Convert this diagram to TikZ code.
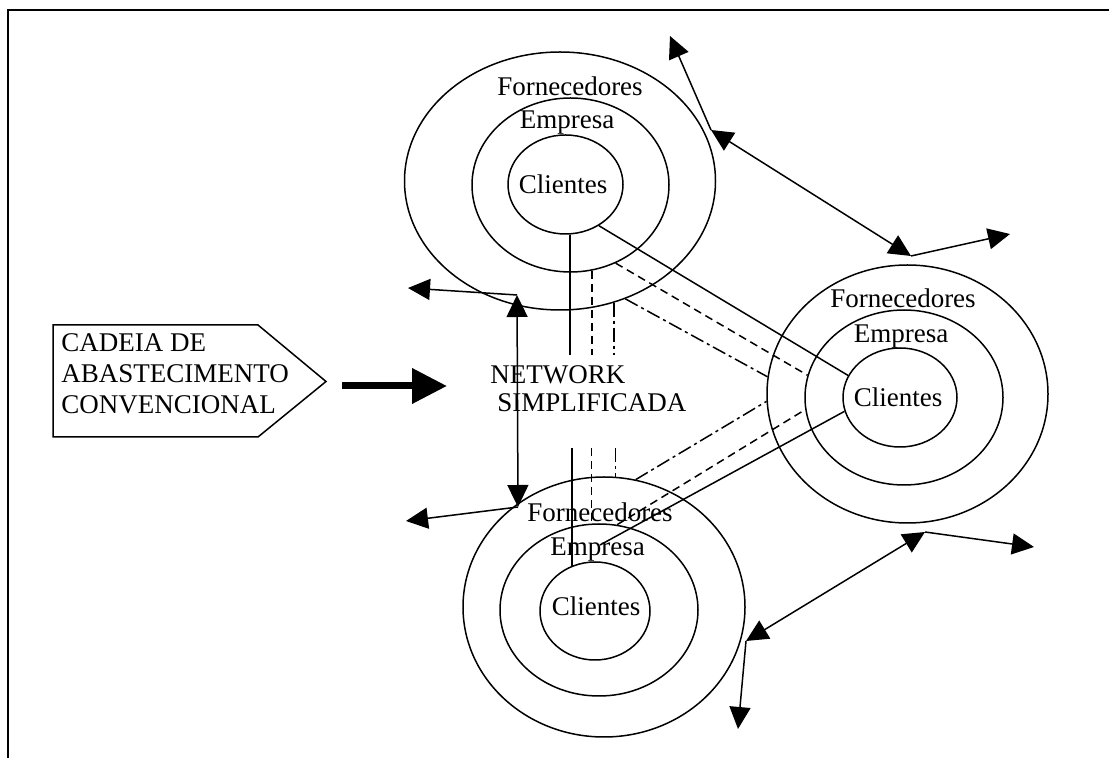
\documentclass[tikz,border=0pt]{standalone}
\usepackage{fontspec}
\setmainfont{Liberation Serif}
\usepackage{tikz}
\usetikzlibrary{shapes, arrows.meta, positioning, calc}

\tikzset{
  ring/.style={draw, ellipse, line width=0.75pt, inner sep=0pt},
  lbl/.style={inner sep=0pt, font=\fontsize{13.5}{15.5}\selectfont},
  link/.style={line width=0.75pt},
  dashlink/.style={line width=0.75pt, dash pattern=on 4pt off 2.5pt},
  dotlink/.style={line width=0.75pt, dash pattern=on 7pt off 2pt on 1.5pt off 2pt},
  onearr/.style={line width=0.75pt, -{Triangle[length=11pt, width=10.5pt]}},
  twoarr/.style={line width=0.75pt, {Triangle[length=11pt, width=10.5pt]}-{Triangle[length=11pt, width=10.5pt]}}
}

\begin{document}
\begin{tikzpicture}[x=0.5pt, y=-0.5pt]
  \useasboundingbox (0,0) rectangle (1109,758);
  \draw[line width=1pt] (8,758) -- (8,10) -- (1109,10);

  \draw[line width=0.75pt] (53,325) -- (258,325) -- (326,381.5) -- (258,437) -- (53,437) -- cycle;
  \node[lbl, anchor=west, align=left] (conv) at (61,374) {CADEIA DE\\ABASTECIMENTO\\CONVENCIONAL};
  \coordinate (bigS) at (342,386);
  \coordinate (bigE) at (447,386);
  \draw[line width=3.5pt, -{Triangle[length=17.5pt, width=17pt]}] (bigS) -- (bigE);
  \node[lbl, anchor=west, align=left] (net) at (490,389) {NETWORK\\[-1.5pt]\hspace{3.5pt}SIMPLIFICADA};

  \node[ring, minimum width=155.5pt, minimum height=129pt] (topO) at (560,181) {};
  \node[ring, minimum width=98.5pt, minimum height=87pt] (topM) at (570.5,185) {};
  \node[ring, minimum width=57.5pt, minimum height=49.5pt] (topI) at (565.5,184.5) {};
  \node[lbl] (topF) at (570,86) {Fornecedores};
  \node[lbl] (topE) at (567,123) {Empresa};
  \node[lbl] (topC) at (563,184) {Clientes};

  \node[ring, minimum width=140.5pt, minimum height=129pt] (rightO) at (907.5,394) {};
  \node[ring, minimum width=99pt, minimum height=87.5pt] (rightM) at (904,397.5) {};
  \node[ring, minimum width=57pt, minimum height=49.5pt] (rightI) at (900,397.5) {};
  \node[lbl] (rightF) at (903,298) {Fornecedores};
  \node[lbl] (rightE) at (901,337) {Empresa};
  \node[lbl] (rightC) at (898,397) {Clientes};

  \node[ring, minimum width=141pt, minimum height=130pt] (botO) at (604,607) {};
  \node[ring, minimum width=99pt, minimum height=86pt] (botM) at (599,610) {};
  \node[ring, minimum width=55pt, minimum height=49pt] (botI) at (595,611) {};
  \node[lbl] (botF) at (600,512) {Fornecedores};
  \node[lbl] (botE) at (597.5,550) {Empresa};
  \node[lbl] (botC) at (596,606) {Clientes};

  \coordinate (gapT) at (0,355);
  \coordinate (gapB) at (0,448);
  \draw[link] (topI.-85) -- (topI.-85 |- gapT);
  \draw[dashlink] (topM.-76) -- (topM.-76 |- gapT);
  \draw[dotlink] (topO.-66) -- (topO.-66 |- gapT);
  \draw[link] (botI.117 |- gapB) -- (botI.117);
  \draw[dashlink] (botM.95 |- gapB) -- (botM.95);
  \draw[dotlink] (botO.85 |- gapB) -- (botO.85);

  \draw[link] (topI.-51) -- (rightI.157);
  \draw[dashlink] (topM.-60) -- (rightM.167);
  \draw[dotlink] (topO.-61) -- (rightO.173);
  \coordinate (sEnd) at (600,545);
  \draw[link] (sEnd) -- (rightI.194);
  \draw[dashlink] (botM.78) -- (rightM.187);
  \draw[dotlink] (botO.76) -- (rightO.183);

  \coordinate (pA) at (711,130);
  \coordinate (tA) at (670,36);
  \coordinate (pB) at (911,256);
  \coordinate (tB) at (1010,234);
  \coordinate (pC) at (517,295);
  \coordinate (tC) at (408,288);
  \coordinate (pD) at (518,507);
  \coordinate (tD) at (406,521);
  \coordinate (pE) at (925,532);
  \coordinate (tE) at (1034,547);
  \coordinate (pF) at (746,641);
  \coordinate (tF) at (738,729);
  \draw[onearr] (pA) -- (tA);
  \draw[twoarr] (pA) -- (pB);
  \draw[onearr] (pB) -- (tB);
  \draw[onearr] (pC) -- (tC);
  \draw[twoarr] (pC) -- (pD);
  \draw[onearr] (pD) -- (tD);
  \draw[onearr] (pE) -- (tE);
  \draw[twoarr] (pE) -- (pF);
  \draw[onearr] (pF) -- (tF);
\end{tikzpicture}
\end{document}
